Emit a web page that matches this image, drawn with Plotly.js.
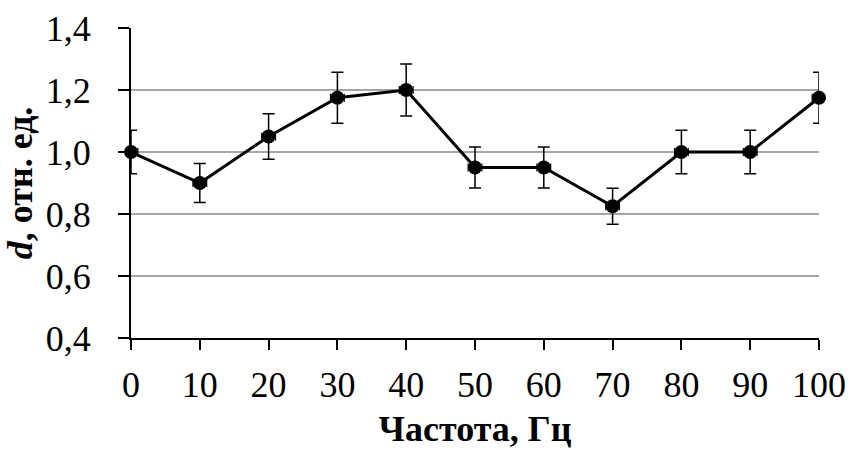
<!DOCTYPE html>
<html>
<head>
<meta charset="utf-8">
<script src="https://cdn.plot.ly/plotly-3.0.1.min.js"></script>
<style>html,body{margin:0;padding:0;background:#fff;}#chart{width:851px;height:450px;}</style>
</head>
<body>
<div id="chart"></div>
<script>
const frequency = [0, 10, 20, 30, 40, 50, 60, 70, 80, 90, 100];
const dValues = [1.0, 0.9, 1.05, 1.175, 1.2, 0.95, 0.95, 0.825, 1.0, 1.0, 1.175];
const errorPercent = 7;
const yTicks = [0.4, 0.6, 0.8, 1.0, 1.2, 1.4];
const yTickLabels = ['0,4', '0,6', '0,8', '1,0', '1,2', '1,4'];
const xTicks = [0, 10, 20, 30, 40, 50, 60, 70, 80, 90, 100];

const font = 'Liberation Serif, Times New Roman, serif';

const trace = {
  x: frequency,
  y: dValues,
  type: 'scatter',
  mode: 'lines+markers',
  cliponaxis: false,
  line: {color: '#000', width: 3},
  marker: {color: '#000', size: 14},
  error_y: {type: 'percent', value: errorPercent, color: '#000', thickness: 1.5, width: 6},
  error_x: {type: 'constant', value: 1, color: '#000', thickness: 1.2, width: 4},
  showlegend: false
};

const layout = {
  width: 851, height: 450,
  margin: {l: 131, r: 32, t: 28, b: 112},
  paper_bgcolor: '#fff', plot_bgcolor: '#fff',
  font: {family: font, color: '#000', size: 36},
  xaxis: {
    range: [0, 100],
    tickvals: xTicks,
    ticktext: xTicks.map(String),
    showgrid: false, zeroline: false,
    showline: true, linecolor: '#000', linewidth: 2,
    ticks: 'outside', ticklen: 10, tickwidth: 2, tickcolor: '#000',
    ticklabelstandoff: 4,
    tickfont: {family: font, size: 36, color: '#000'},
    title: {text: '<b>Частота, Гц</b>', font: {family: font, size: 36, color: '#000'}, standoff: 12}
  },
  yaxis: {
    range: [0.4, 1.4],
    tickvals: yTicks,
    ticktext: yTickLabels,
    showgrid: true, gridcolor: '#a6a6a6', gridwidth: 1.2,
    zeroline: false,
    showline: true, linecolor: '#000', linewidth: 2,
    ticks: 'outside', ticklen: 11, tickwidth: 2, tickcolor: '#000',
    ticklabelstandoff: 20,
    tickfont: {family: font, size: 36, color: '#000'},
    title: {text: '<b><i>d</i>, отн. ед.</b>', font: {family: font, size: 36, color: '#000'}, standoff: 10}
  }
};

Plotly.newPlot('chart', [trace], layout, {displayModeBar: false, staticPlot: true});
</script>
</body>
</html>
